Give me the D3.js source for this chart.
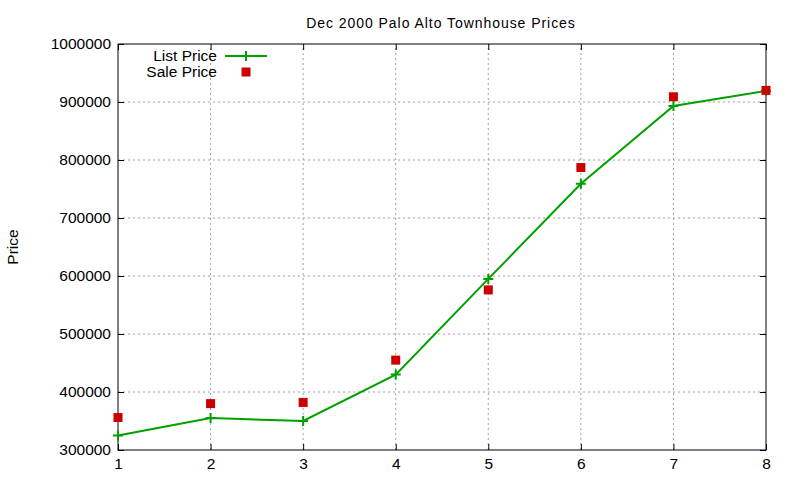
<!DOCTYPE html>
<html>
<head>
<meta charset="utf-8">
<script src="https://cdn.jsdelivr.net/npm/d3@7"></script>
<style>
  body { margin: 0; background: #fff; }
  text { font-family: "Liberation Sans", Arial, sans-serif; fill: #000; }
</style>
</head>
<body>
<svg id="chart" width="800" height="480"></svg>
<script>
// data
const months = [1, 2, 3, 4, 5, 6, 7, 8]
const listPrice = [325000, 355000, 350000, 430000, 595000, 759000, 893000, 919000]
const salePrice = [356000, 380000, 382000, 455000, 576000, 787000, 909000, 920000]
const yTicks = [300000, 400000, 500000, 600000, 700000, 800000, 900000, 1000000]

const width = 800
const height = 480
const margin = { top: 44, right: 34, bottom: 30, left: 118 }
const fontSize = '15.5px'

const svg = d3.select('#chart')

const xScale = d3.scaleLinear()
    .domain([1, 8])
    .range([margin.left, width - margin.right])

const yScale = d3.scaleLinear()
    .domain([300000, 1000000])
    .range([height - margin.bottom, margin.top])

// grid
const grid = svg.append('g')
grid.selectAll('.gx')
    .data(months.slice(1, -1))
    .join('line')
    .attr('x1', d => xScale(d)).attr('x2', d => xScale(d))
    .attr('y1', yScale.range()[0]).attr('y2', yScale.range()[1])
    .attr('stroke', '#a0a0a0').attr('stroke-dasharray', '2,3')
grid.selectAll('.gy')
    .data(yTicks.slice(1, -1))
    .join('line')
    .attr('x1', xScale.range()[0]).attr('x2', xScale.range()[1])
    .attr('y1', d => yScale(d)).attr('y2', d => yScale(d))
    .attr('stroke', '#a0a0a0').attr('stroke-dasharray', '2,3')

// axes, ticks inward, mirrored
const tick = 6
const xAxis = d3.axisBottom(xScale).tickValues(months).tickFormat(d3.format('d'))
    .tickSizeInner(-tick).tickSizeOuter(0).tickPadding(8)
const xTop = d3.axisTop(xScale).tickValues(months).tickFormat('')
    .tickSizeInner(-tick).tickSizeOuter(0)
const yAxis = d3.axisLeft(yScale).tickValues(yTicks).tickFormat(d3.format('d'))
    .tickSizeInner(-tick).tickSizeOuter(0).tickPadding(7)
const yRight = d3.axisRight(yScale).tickValues(yTicks).tickFormat('')
    .tickSizeInner(-tick).tickSizeOuter(0)

svg.append('g').attr('transform', `translate(0,${height - margin.bottom})`).call(xAxis)
svg.append('g').attr('transform', `translate(0,${margin.top})`).call(xTop)
svg.append('g').attr('transform', `translate(${margin.left},0)`).call(yAxis)
svg.append('g').attr('transform', `translate(${width - margin.right},0)`).call(yRight)

svg.selectAll('.domain').remove()
svg.selectAll('.tick line').attr('stroke', '#000')
svg.selectAll('.tick text').style('font-size', fontSize)
    .style('font-family', '"Liberation Sans", Arial, sans-serif')

// frame
svg.append('rect')
    .attr('x', margin.left).attr('y', margin.top)
    .attr('width', width - margin.left - margin.right)
    .attr('height', height - margin.top - margin.bottom)
    .attr('fill', 'none').attr('stroke', '#000')

// list price line
const line = d3.line()
    .x((d, i) => xScale(months[i]))
    .y(d => yScale(d))

svg.append('path')
    .attr('d', line(listPrice))
    .attr('fill', 'none')
    .attr('stroke', '#00a000')
    .attr('stroke-width', 2)

svg.selectAll('.plus')
    .data(listPrice)
    .join('path')
    .attr('d', 'M-5,0H5M0,-5V5')
    .attr('transform', (d, i) => `translate(${xScale(months[i])},${yScale(d)})`)
    .attr('stroke', '#00a000')
    .attr('stroke-width', 2)

// sale price squares
svg.selectAll('.sq')
    .data(salePrice)
    .join('rect')
    .attr('x', (d, i) => xScale(months[i]) - 4.5)
    .attr('y', d => yScale(d) - 4.5)
    .attr('width', 9).attr('height', 9)
    .attr('fill', '#cc0000')

// legend
const lg = svg.append('g')
lg.append('text').attr('x', 217).attr('y', 61).attr('text-anchor', 'end')
    .style('font-size', fontSize).text('List Price')
lg.append('line').attr('x1', 225).attr('x2', 267).attr('y1', 56).attr('y2', 56)
    .attr('stroke', '#00a000').attr('stroke-width', 2)
lg.append('path').attr('d', 'M-5,0H5M0,-5V5')
    .attr('transform', 'translate(246,56)')
    .attr('stroke', '#00a000').attr('stroke-width', 2)
lg.append('text').attr('x', 217).attr('y', 77).attr('text-anchor', 'end')
    .style('font-size', fontSize).text('Sale Price')
lg.append('rect').attr('x', 241.5).attr('y', 67.5).attr('width', 9).attr('height', 9)
    .attr('fill', '#cc0000')

// title and y label
svg.append('text')
    .attr('x', 441).attr('y', 27.5)
    .attr('text-anchor', 'middle')
    .style('font-size', '14px')
    .style('letter-spacing', '0.95px')
    .text('Dec 2000 Palo Alto Townhouse Prices')

svg.append('text')
    .attr('transform', 'translate(18,247) rotate(-90)')
    .attr('text-anchor', 'middle')
    .style('font-size', fontSize)
    .text('Price')
</script>
</body>
</html>
